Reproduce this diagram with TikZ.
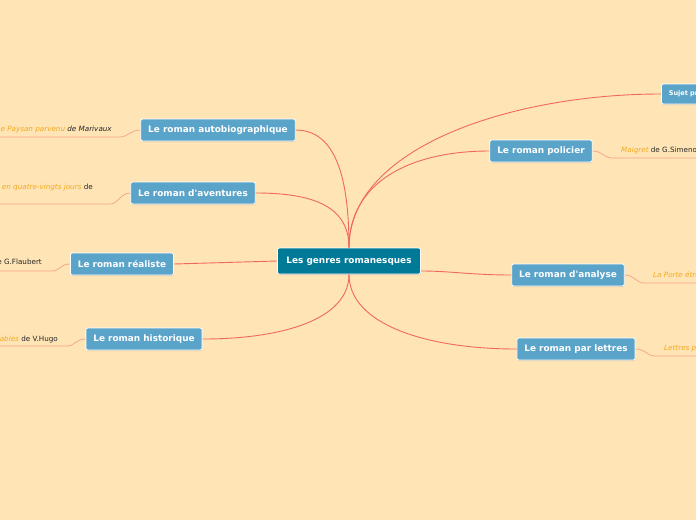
\documentclass[tikz,border=0pt]{standalone}
\usepackage{fontspec}
\setmainfont{DejaVu Sans}
\usetikzlibrary{shadows}

\definecolor{paper}{RGB}{255,228,181}
\definecolor{mainblue}{RGB}{0,122,150}
\definecolor{topicblue}{RGB}{91,164,201}
\definecolor{branchred}{RGB}{240,105,95}
\definecolor{twigred}{RGB}{245,160,140}
\definecolor{bookgold}{RGB}{245,170,30}

\begin{document}
\begin{tikzpicture}[
  x=1pt, y=-1pt,
  box/.style={draw=white, line width=0.8pt, rounded corners=2pt, text=white,
    font=\fontsize{8.9}{10}\selectfont\bfseries, inner xsep=7.5pt, minimum height=22pt,
    drop shadow={shadow xshift=0.4pt, shadow yshift=-1pt, opacity=0.25}},
  mainbox/.style={box, fill=mainblue, minimum height=26pt, inner xsep=9pt},
  topicbox/.style={box, fill=topicblue},
  leaf/.style={font=\fontsize{7.2}{9}\selectfont, text=black!85, inner sep=0pt, align=left},
  branch/.style={draw=branchred, line width=0.9pt},
  twig/.style={draw=twigred, line width=0.7pt},
]
  \useasboundingbox (0,0) rectangle (696,520);
  \clip (0,0) rectangle (696,520);
  \fill[paper] (0,0) rectangle (696,520);

  % centre and topics
  \node[mainbox] (genres) at (349,261) {Les genres romanesques};

  \node[topicbox] (autobio) at (218,130) {Le roman autobiographique};
  \node[topicbox] (aventures) at (193,193) {Le roman d\textquotesingle aventures};
  \node[topicbox] (realiste) at (122,264) {Le roman réaliste};
  \node[topicbox] (histo) at (144,339) {Le roman historique};
  \node[topicbox, font=\fontsize{6.5}{7.5}\selectfont\bfseries, minimum height=20pt, anchor=west] (sujet) at (661,94) {Sujet principal};
  \node[topicbox] (policier) at (541,151) {Le roman policier};
  \node[topicbox] (analyse) at (568,275) {Le roman d\textquotesingle analyse};
  \node[topicbox] (lettres) at (576,349) {Le roman par lettres};

  % branches
  \draw[branch] (genres.north) .. controls +(0,-70) and +(40,0) .. (autobio.east);
  \draw[branch] (genres.north) .. controls +(0,-40) and +(60,0) .. (aventures.east);
  \draw[branch] (genres.west) -- (realiste.east);
  \draw[branch] (genres.south) .. controls +(0,45) and +(80,0) .. (histo.east);
  \draw[branch] (genres.north) .. controls +(0,-100) and +(-150,0) .. (sujet.west);
  \draw[branch] (genres.north) .. controls +(0,-65) and +(-80,0) .. (policier.west);
  \draw[branch] ([yshift=-10pt]genres.east) .. controls +(30,0) and +(-40,0) .. (analyse.west);
  \draw[branch] (genres.south) .. controls +(0,50) and +(-90,0) .. (lettres.west);

  % books
  \node[leaf, anchor=east] (marivaux) at (112,130) {\textcolor{bookgold}{\itshape Le Paysan parvenu} \textit{de Marivaux}};
  \node[leaf, anchor=north east] (verne) at (93,184) {\textcolor{bookgold}{\itshape Le Tour du monde en quatre-vingts jours} de\\J.Verne};
  \node[leaf, anchor=east] (flaubert) at (42,263) {\textcolor{bookgold}{\itshape Madame Bovary} de G.Flaubert};
  \node[leaf, anchor=east] (hugo) at (58,339) {\textcolor{bookgold}{\itshape Les Misérables} de V.Hugo};
  \node[leaf, anchor=west] (simenon) at (621,151) {\textcolor{bookgold}{\itshape Maigret} de G.Simenon};
  \node[leaf, anchor=west] (gide) at (653,275) {\textcolor{bookgold}{\itshape La Porte étroite} d\textquotesingle André Gide};
  \node[leaf, anchor=west] (montesquieu) at (664,349) {\textcolor{bookgold}{\itshape Lettres persanes} de Montesquieu};

  \coordinate (m0) at (0,137);
  \coordinate (v0) at (0,204);
  \coordinate (f0) at (0,271);
  \coordinate (h0) at (0,346);
  \coordinate (s0) at (696,158);
  \coordinate (g0) at (696,283);
  \coordinate (l0) at (696,356);

  \draw[twig] (autobio.west) .. controls +(-10,0) and +(8,0) .. (120,137) -- (m0);
  \draw[twig] (aventures.west) .. controls +(-10,0) and +(8,0) .. (110,204) -- (v0);
  \draw[twig] (realiste.west) .. controls +(-10,0) and +(8,0) .. (52,271) -- (f0);
  \draw[twig] (histo.west) .. controls +(-10,0) and +(8,0) .. (67,346) -- (h0);
  \draw[twig] (policier.east) .. controls +(10,0) and +(-8,0) .. (612,158) -- (s0);
  \draw[twig] (analyse.east) .. controls +(10,0) and +(-8,0) .. (644,283) -- (g0);
  \draw[twig] (lettres.east) .. controls +(10,0) and +(-8,0) .. (655,356) -- (l0);
\end{tikzpicture}
\end{document}
